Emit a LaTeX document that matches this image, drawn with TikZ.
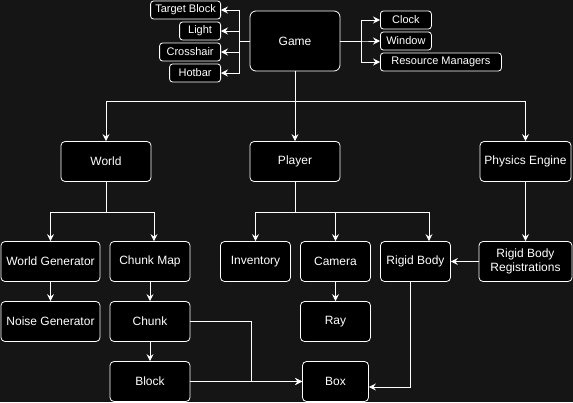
\documentclass[tikz,border=0pt]{standalone}
\usepackage{fontspec}
\setmainfont{Liberation Sans}
\usetikzlibrary{arrows.meta}
\definecolor{bg}{HTML}{151515}
\tikzset{
  box/.style={draw=white, fill=black, rounded corners=4pt, text=white, line width=0.8pt,
    inner sep=0pt, font=\fontsize{12}{14}\selectfont, align=center},
  small/.style={box, rounded corners=3pt, minimum height=18pt, font=\fontsize{11}{13}\selectfont},
  arr/.style={draw=white, line width=0.8pt, -{Stealth[length=7pt,width=7pt,inset=2.5pt]}},
  ln/.style={draw=white, line width=0.8pt}
}
\begin{document}
\begin{tikzpicture}[x=1pt,y=-1pt]
\fill[bg] (0,0) rectangle (573,402);
\useasboundingbox (0,0) rectangle (573,402);
% top
\node[box, minimum width=90pt, minimum height=60pt, rounded corners=6pt] (game) at (295,41) {Game};
\node[small, minimum width=70pt, anchor=east] (tb) at (221,10) {Target Block};
\node[small, minimum width=41pt, anchor=east] (light) at (221,31) {Light};
\node[small, minimum width=61pt, anchor=east] (cross) at (221,52) {Crosshair};
\node[small, minimum width=51pt, anchor=east] (hotbar) at (221,73) {Hotbar};
\node[small, minimum width=51pt, anchor=west] (clock) at (380,20) {Clock};
\node[small, minimum width=51pt, anchor=west] (window) at (380,41) {Window};
\node[small, minimum width=121pt, anchor=west] (res) at (380,62) {Resource Managers};
% level 2
\node[box, minimum width=90pt, minimum height=40pt] (world) at (106,161.5) {World};
\node[box, minimum width=90pt, minimum height=40pt] (player) at (295,161.5) {Player};
\node[box, minimum width=91pt, minimum height=40pt] (phys) at (525.5,161.5) {Physics Engine};
% level 3
\node[box, minimum width=99pt, minimum height=40pt] (wgen) at (50.5,261.5) {World Generator};
\node[box, minimum width=80pt, minimum height=40pt] (cmap) at (150,261.5) {Chunk Map};
\node[box, minimum width=99pt, minimum height=40pt] (noise) at (50.5,321.5) {Noise Generator};
\node[box, minimum width=80pt, minimum height=40pt] (chunk) at (150,321.5) {Chunk};
\node[box, minimum width=80pt, minimum height=40pt] (block) at (150,381.5) {Block};
\node[box, minimum width=70pt, minimum height=40pt] (inv) at (255.5,261.5) {Inventory};
\node[box, minimum width=70pt, minimum height=40pt] (cam) at (335.5,261.5) {Camera};
\node[box, minimum width=70pt, minimum height=40pt] (ray) at (335.5,321.5) {Ray};
\node[box, minimum width=66pt, minimum height=40pt] (boxn) at (335.5,381.5) {Box};
\node[box, minimum width=70pt, minimum height=40pt] (rigid) at (415.5,261.5) {Rigid Body};
\node[box, minimum width=93pt, minimum height=40pt] (rbr) at (525.5,261.5) {Rigid Body\\Registrations};
% connectors game left/right
\foreach \t in {tb,light,cross,hotbar} \draw[arr] (game.west) -- ++(-10,0) |- (\t.east);
\foreach \t in {clock,window,res} \draw[arr] (game.east) -- ++(21,0) |- (\t.west);
% game down
\draw[arr] (game.south) -- ++(0,30) -| (world.north);
\draw[arr] (game.south) -- (player.north);
\draw[arr] (game.south) -- ++(0,30) -| (phys.north);
% world down
\draw[arr] (world.south) -- ++(0,30.5) -| (wgen.north);
\draw[arr] (world.south) -- ++(0,30.5) -| ([xshift=4pt]cmap.north);
% player down
\draw[arr] (player.south) -- ++(0,30.5) -| (inv.north);
\draw[arr] (player.south) -- ++(0,30.5) -| (cam.north);
\draw[arr] (player.south) -- ++(0,30.5) -| ([xshift=13.5pt]rigid.north);
% physics
\draw[arr] (phys.south) -- (rbr.north);
\draw[arr] (rbr.west) -- (rigid.east);
% chains
\draw[arr] (wgen.south) -- (noise.north);
\draw[arr] (cmap.south) -- (chunk.north);
\draw[arr] (chunk.south) -- (block.north);
\draw[arr] (cam.south) -- (ray.north);
\draw[arr] (chunk.east) -- ++(60.5,0) |- (boxn.west);
\draw[arr] (block.east) -- (boxn.west);
\draw[arr] ([xshift=-5.5pt]rigid.south) |- ([yshift=-5.5pt]boxn.east);
\end{tikzpicture}
\end{document}
